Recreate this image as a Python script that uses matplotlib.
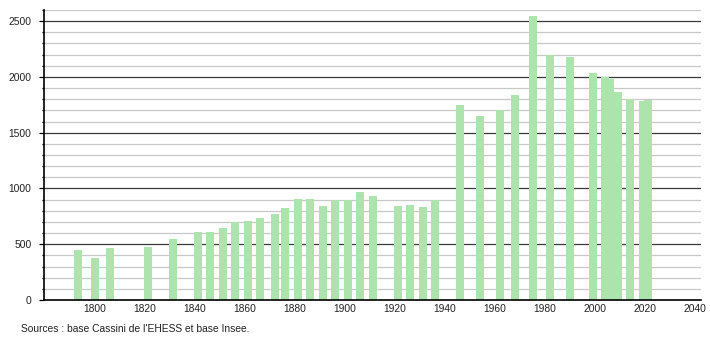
import matplotlib
matplotlib.use("Agg")
import matplotlib.pyplot as plt
from matplotlib.ticker import MultipleLocator

years = [1793, 1800, 1806, 1821, 1831, 1841, 1846, 1851, 1856, 1861, 1866,
         1872, 1876, 1881, 1886, 1891, 1896, 1901, 1906, 1911, 1921, 1926,
         1931, 1936, 1946, 1954, 1962, 1968, 1975, 1982, 1990, 1999, 2004,
         2006, 2009, 2014, 2019, 2021]
population = [450, 381, 468, 477, 549, 612, 612, 649, 703, 712, 739,
              775, 829, 910, 910, 847, 901, 901, 964, 928, 847, 856,
              838, 901, 1748, 1649, 1703, 1838, 2550, 2198, 2180, 2036, 2000,
              1982, 1865, 1802, 1784, 1793]
x_ticks = [1800, 1820, 1840, 1860, 1880, 1900, 1920, 1940, 1960, 1980, 2000, 2020, 2040]
y_ticks = [0, 500, 1000, 1500, 2000, 2500]
source_text = "Sources : base Cassini de l'EHESS et base Insee."

plt.rcParams['font.family'] = ['Liberation Sans', 'DejaVu Sans']

W, H = 710, 340
fig = plt.figure(figsize=(W / 100, H / 100), dpi=100)
left, right, top, bottom = 44, 701, 10, 300
ax = fig.add_axes([left / W, 1 - bottom / H, (right - left) / W, (bottom - top) / H])

ax.set_xlim(1779.6, 2042.4)
ax.set_ylim(0, 2600)

# grid
for v in range(100, 2601, 100):
    if v % 500 == 0:
        ax.axhline(v, color='#3a3a3a', lw=0.9, zorder=1)
    else:
        ax.axhline(v, color='#c8c8c8', lw=0.9, zorder=1)

ax.bar(years, population, width=3.2, color='#ade3ad', zorder=2, linewidth=0)

for s in ['top', 'right']:
    ax.spines[s].set_visible(False)
ax.spines['left'].set_color('black')
ax.spines['bottom'].set_color('black')
ax.spines['left'].set_linewidth(1.2)
ax.spines['bottom'].set_linewidth(1.2)

ax.set_xticks(x_ticks)
ax.set_xticklabels([str(t) for t in x_ticks])
ax.tick_params(axis='x', length=0, labelsize=7.4, pad=3, labelcolor='#222222')
ax.set_yticks(y_ticks)
ax.yaxis.set_minor_locator(MultipleLocator(100))
ax.tick_params(axis='y', which='major', length=3.6, width=0.9, labelsize=7.4, pad=5.5,
               direction='out', labelcolor='#222222')
ax.tick_params(axis='y', which='minor', length=1.5, width=0.9, direction='out')

fig.text(21 / W, 1 - 329 / H, source_text, fontsize=7.4, ha='left', va='center', color='#222222')

fig.savefig('out.png', dpi=100)
